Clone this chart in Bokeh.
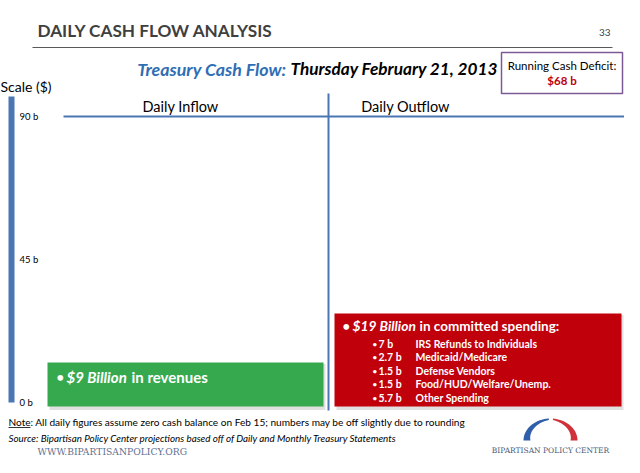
import numpy as np
from bokeh.plotting import figure
from bokeh.models import Range1d
from bokeh.core.properties import value
from bokeh.embed import file_html
from bokeh.resources import INLINE

# ---------------- data ----------------
page_title = "DAILY CASH FLOW ANALYSIS"
page_number = "33"
chart_title_a = "Treasury Cash Flow:"
chart_title_b = "Thursday February 21, 2013"
deficit_label = "Running Cash Deficit:"
running_deficit = 68  # $ billions

categories = ["Daily Inflow", "Daily Outflow"]
totals = [9, 19]  # $ billions
scale_ticks = [0, 45, 90]
scale_tick_labels = ["0 b", "45 b", "90 b"]

outflow_items = ["IRS Refunds to Individuals", "Medicaid/Medicare", "Defense Vendors",
                 "Food/HUD/Welfare/Unemp.", "Other Spending"]
outflow_values = [7, 2.7, 1.5, 1.5, 5.7]

note_text = "All daily figures assume zero cash balance on Feb 15; numbers may be off slightly due to rounding"
source_text = "Source: Bipartisan Policy Center projections based off of Daily and Monthly Treasury  Statements"

# ---------------- layout ----------------
W, H = 624, 457
FONT = "Lato"
SERIF = "DejaVu Serif"
BLUE_LINE = "#4a77b4"
GREEN = "#36a94f"
RED = "#c0000b"

p = figure(width=W, height=H, output_backend="svg", toolbar_location=None,
           x_range=Range1d(0, W), y_range=Range1d(H, 0),
           min_border=0, outline_line_color=None, background_fill_color="white")
p.axis.visible = False
p.grid.visible = False


def extra_range(v0, py0, v1, py1):
    # linear value range mapped so that value v0 sits at picture y py0 and v1 at py1
    k = (py0 - py1) / (v1 - v0)
    return Range1d(v0 - (H - py0) / k, v0 + py0 / k)


p.extra_y_ranges = {"scale": extra_range(0, 402, 90, 116),
                    "box": extra_range(0, 406, 19, 313)}


def txt(x, y, s, size, color="black", style="normal", align="left", font=FONT, **kw):
    p.text(x=[x], y=[y], text=[s], text_font=value(font), text_font_size=f"{size}px",
           text_color=color, text_font_style=style, text_align=align,
           text_baseline="middle", **kw)


# header
txt(37, 30, page_title, 17.2, color="#3f3f3f", style="bold")
txt(610, 32, page_number, 10, color="#3f3f3f", align="right")
p.segment(x0=[32], y0=[47], x1=[612], y1=[47], line_color="#595959", line_width=1.2)

txt(286, 68, chart_title_a, 17.8, color="#2f6eb5", style="bold italic", align="right")
txt(290, 68, chart_title_b, 17.2, color="black", style="bold italic")

p.quad(left=[501], right=[622], top=[52], bottom=[93], fill_color="white",
       line_color="#7b5a96", line_width=1.5)
txt(561.5, 65, deficit_label, 11.5, align="center")
txt(561.5, 80, f"${running_deficit} b", 11.5, color=RED, style="bold", align="center")

# scale bar
txt(0, 86, "Scale ($)", 14)
p.quad(left=[8], right=[14], bottom=[0], top=[max(scale_ticks) * 1.07],
       y_range_name="scale", fill_color=BLUE_LINE, line_color=None)
p.text(x=[19] * len(scale_ticks), y=scale_ticks, text=scale_tick_labels,
       y_range_name="scale", text_font=value(FONT), text_font_size="9.5px",
       text_baseline="middle", text_color="black")

# category headers and dividers
cat_x = [180, 405]
p.text(x=cat_x, y=[106, 106], text=categories, text_font=value(FONT),
       text_font_size="14.5px", text_align="center", text_baseline="middle")
p.segment(x0=[63], y0=[max(scale_ticks)], x1=[W], y1=[max(scale_ticks)],
          y_range_name="scale", line_color=BLUE_LINE, line_width=2.2)
p.segment(x0=[328], y0=[93], x1=[328], y1=[410], line_color=BLUE_LINE, line_width=2)

# bars (text boxes)
bar_left = [47, 334]
bar_right = [323, 621]
bar_colors = [GREEN, RED]
p.quad(left=[l + 2 for l in bar_left], right=[r + 2 for r in bar_right],
       bottom=[-0.7, -0.7], top=[t - 0.3 for t in totals], y_range_name="box",
       fill_color="#000000", fill_alpha=0.12, line_color=None)
p.quad(left=bar_left, right=bar_right, bottom=[0] * 2, top=totals,
       y_range_name="box", fill_color=bar_colors, line_color=None)

# green text
txt(56, 376, "•", 13, color="white", style="bold")
txt(66, 376, f"${totals[0]} Billion", 15, color="white", style="bold italic")
txt(131, 376, "in revenues", 15, color="white", style="bold")

# red text
txt(342, 325, "•", 13, color="white", style="bold")
txt(352, 325, f"${totals[1]} Billion", 13.8, color="white", style="bold italic")
txt(419, 325, "in committed spending:", 13.5, color="white", style="bold")

row_y = [343, 356.5, 370, 383.5, 397]
for yy, v, item in zip(row_y, outflow_values, outflow_items):
    txt(372, yy, "•", 8, color="white", style="bold")
    txt(378, yy, f"{v:g} b", 10.5, color="white", style="bold")
    txt(415, yy, item, 10.5, color="white", style="bold")

# footer
txt(8, 421, "Note", 10.1)
p.segment(x0=[8], y0=[427], x1=[30], y1=[427], line_color="black", line_width=0.8)
txt(30, 421, ": " + note_text, 10.1)
txt(8, 437, source_text, 9.8, style="italic")
txt(37, 451, "WWW.BIPARTISANPOLICY.ORG", 9.2, color="#5f6f90", font=SERIF)
txt(550, 450, "BIPARTISAN POLICY CENTER", 7.5, color="#4a5a7a", font=SERIF, align="center")

# logo arch
cx, cy = 550, 440
def arch(a0, a1, t0, t1):
    a = np.linspace(a0, a1, 40)
    th = np.linspace(t0, t1, 40)
    ox = cx + 27 * np.cos(a)
    oy = cy - 22 * np.sin(a)
    ix = cx + (27 - th) * np.cos(a)
    iy = cy - (22 - th) * np.sin(a)
    return list(np.concatenate([ox, ix[::-1]])), list(np.concatenate([oy, iy[::-1]]))

bx, by = arch(np.pi, np.pi * 0.52, 7, 1.5)
rx, ry = arch(np.pi * 0.47, 0.0, 1.5, 7)
p.patches(xs=[bx, rx], ys=[by, ry], fill_color=["#2f5fa8", "#d0313b"], line_color=None)

open("out.html", "w").write(file_html(p, INLINE))
